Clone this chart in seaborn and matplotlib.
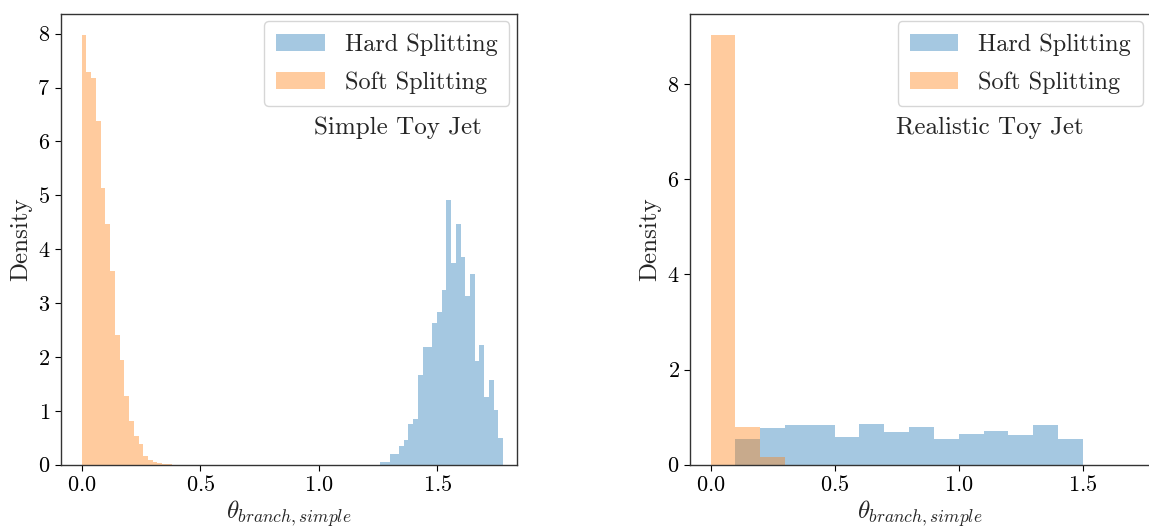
import numpy as np
import pandas as pd
import matplotlib
matplotlib.use("Agg")
import matplotlib.pyplot as plt
from matplotlib.patches import Patch
import seaborn as sns

# ---- data: histogram densities (bin width, first edge, heights) ----
simple_bin_width = 0.01996
simple_soft_start = 0.0
simple_soft_density = [7.98, 7.29, 7.18, 6.38, 5.14, 4.47, 3.59, 2.40, 1.95, 1.27,
                       0.82, 0.53, 0.38, 0.17, 0.09, 0.05, 0.03, 0.018, 0.006]
simple_hard_start = 1.2587
simple_hard_density = [0.056, 0.056, 0.204, 0.204, 0.35, 0.46, 0.76, 0.85, 1.67, 2.19,
                       2.19, 2.63, 2.84, 3.25, 4.92, 3.75, 4.47, 3.86, 3.14, 3.54,
                       1.93, 2.23, 1.26, 1.58, 1.02, 0.50]

real_bin_width = 0.1
real_soft_start = 0.0
real_soft_density = [9.03, 0.79, 0.16]
real_hard_start = 0.1
real_hard_density = [0.54, 0.77, 0.83, 0.83, 0.59, 0.85, 0.68, 0.80, 0.55, 0.65,
                     0.70, 0.62, 0.83, 0.54]

series_labels = ["Hard Splitting", "Soft Splitting"]
panel_titles = ["Simple Toy Jet", "Realistic Toy Jet"]
x_label = r"$\theta_{branch,simple}$"
y_label = "Density"

sns.set_style("ticks")
plt.rcParams.update({
    "font.family": ["cmr10", "DejaVu Serif"],
    "mathtext.fontset": "cm",
    "axes.formatter.use_mathtext": True,
    "axes.edgecolor": "#333333",
    "axes.linewidth": 1.0,
    "xtick.color": "black",
    "ytick.color": "black",
    "xtick.major.size": 4,
    "ytick.major.size": 4,
    "xtick.direction": "out",
    "ytick.direction": "out",
})

fig = plt.figure(figsize=(11.49, 5.27), dpi=100)
ax1 = fig.add_axes([0.0528, 0.1182, 0.3969, 0.8552])
ax2 = fig.add_axes([0.6005, 0.1182, 0.4003, 0.8552])


def draw_hist(ax, start, width, density, color):
    density = [float(d) for d in density]
    edges = [start + width * i for i in range(len(density) + 1)]
    frame = pd.DataFrame({
        "theta": [0.5 * (edges[i] + edges[i + 1]) for i in range(len(density))],
        "density": density,
    })
    sns.histplot(data=frame, x="theta", weights="density", bins=edges,
                 stat="count", color=color, alpha=0.4, linewidth=0, ax=ax)


draw_hist(ax1, simple_hard_start, simple_bin_width, simple_hard_density, "C0")
draw_hist(ax1, simple_soft_start, simple_bin_width, simple_soft_density, "C1")
draw_hist(ax2, real_hard_start, real_bin_width, real_hard_density, "C0")
draw_hist(ax2, real_soft_start, real_bin_width, real_soft_density, "C1")

ax1.set_xlim(-0.089, 1.835)
ax1.set_ylim(0, 8.365)
ax2.set_xlim(-0.0835, 1.771)
ax2.set_ylim(0, 9.47)
ax2.set_yticks([0, 2, 4, 6, 8])

handles = [Patch(facecolor="C0", alpha=0.4, linewidth=0),
           Patch(facecolor="C1", alpha=0.4, linewidth=0)]

for ax, title, tx in [(ax1, panel_titles[0], 0.74), (ax2, panel_titles[1], 0.651)]:
    ax.set_xticks([0.0, 0.5, 1.0, 1.5])
    ax.set_xlabel(x_label, fontsize=18, labelpad=2)
    ax.set_ylabel(y_label, fontsize=18)
    ax.tick_params(labelsize=16)
    for s in ax.spines.values():
        s.set_visible(True)
    ax.legend(handles, series_labels, loc="upper right", fontsize=17.5,
              borderaxespad=0.3, borderpad=0.5, labelspacing=0.62)
    ax.text(tx, 0.747, title, transform=ax.transAxes, ha="center",
            va="center", fontsize=18)

fig.savefig("out.png", dpi=100)
